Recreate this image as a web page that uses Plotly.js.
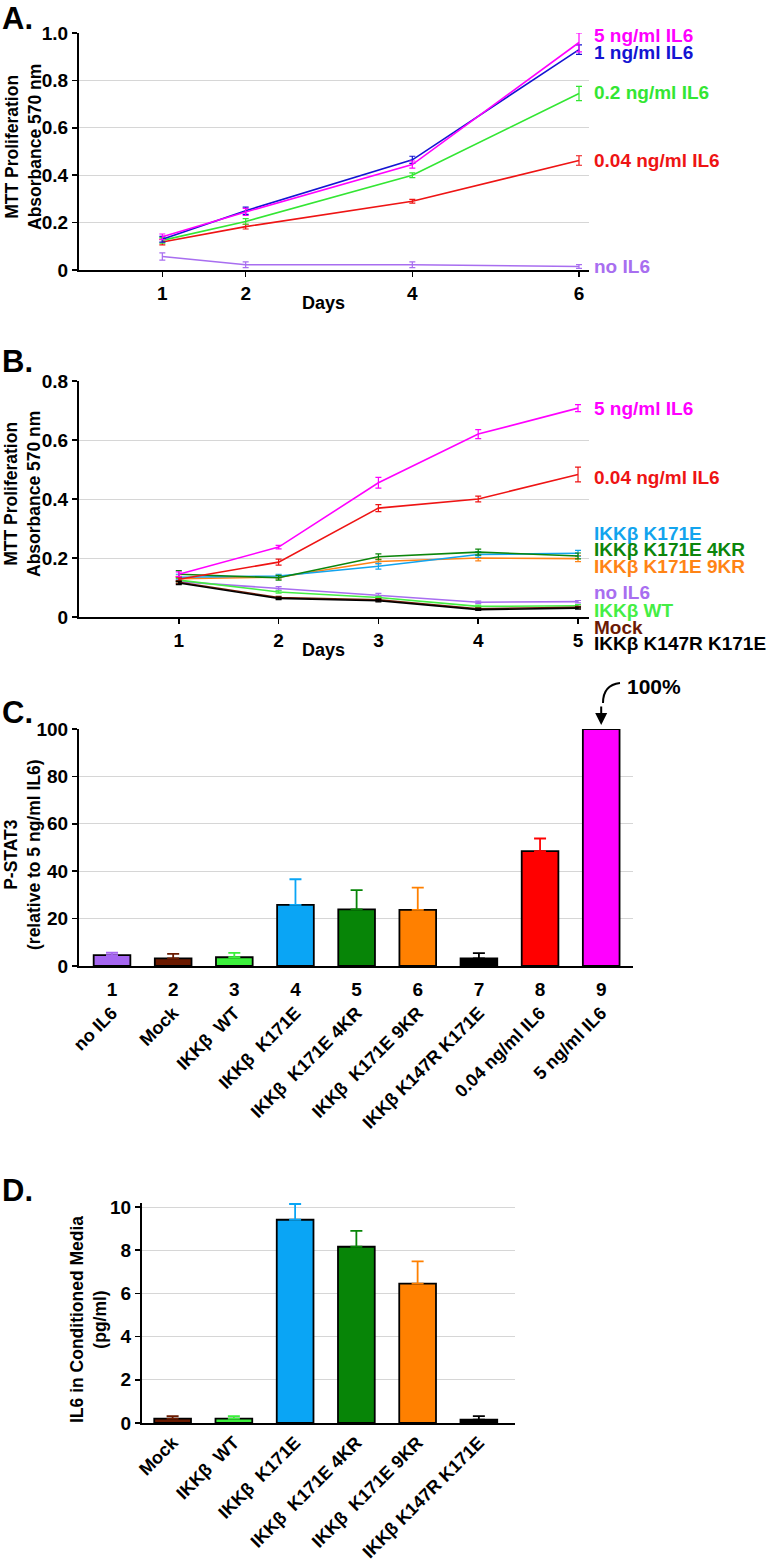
<!DOCTYPE html>
<html><head><meta charset="utf-8">
<script src="https://cdn.plot.ly/plotly-3.0.1.min.js"></script>
<style>html,body{margin:0;padding:0;background:#fff}</style>
</head><body><div id="chart" style="width:773px;height:1564px"></div>
<script>
// ---------- Panel A data ----------
const daysA = [1, 2, 4, 6];
const namesA = ['5 ng/ml IL6', '1 ng/ml IL6', '0.2 ng/ml IL6', '0.04 ng/ml IL6', 'no IL6'];
const a_5ng = [0.140, 0.245, 0.445, 0.960];
const a_5ng_err = [0.012, 0.015, 0.015, 0.040];
const a_1ng = [0.130, 0.250, 0.465, 0.930];
const a_1ng_err = [0.012, 0.015, 0.015, 0.020];
const a_02ng = [0.125, 0.205, 0.400, 0.745];
const a_02ng_err = [0.012, 0.012, 0.010, 0.030];
const a_004ng = [0.118, 0.183, 0.290, 0.462];
const a_004ng_err = [0.012, 0.010, 0.008, 0.020];
const a_noIL6 = [0.057, 0.022, 0.022, 0.015];
const a_noIL6_err = [0.015, 0.012, 0.012, 0.008];
const colorsA = ['#ff00ff', '#1414d2', '#33e633', '#ee1414', '#a86ef0'];

// ---------- Panel B data ----------
const daysB = [1, 2, 3, 4, 5];
const namesB = ['5 ng/ml IL6', '0.04 ng/ml IL6', 'IKKβ K171E', 'IKKβ K171E 4KR', 'IKKβ K171E 9KR', 'no IL6', 'IKKβ WT', 'Mock', 'IKKβ K147R K171E'];
const b_5ng = [0.145, 0.237, 0.455, 0.620, 0.708];
const b_5ng_err = [0.008, 0.006, 0.018, 0.015, 0.012];
const b_004ng = [0.128, 0.186, 0.369, 0.400, 0.483];
const b_004ng_err = [0.008, 0.010, 0.012, 0.010, 0.025];
const b_K171E = [0.135, 0.139, 0.172, 0.212, 0.216];
const b_K171E_err = [0.010, 0.006, 0.010, 0.010, 0.010];
const b_4KR = [0.145, 0.133, 0.204, 0.220, 0.207];
const b_4KR_err = [0.012, 0.008, 0.010, 0.010, 0.010];
const b_9KR = [0.130, 0.135, 0.188, 0.200, 0.198];
const b_9KR_err = [0.008, 0.006, 0.008, 0.010, 0.010];
const b_noIL6 = [0.120, 0.097, 0.075, 0.050, 0.052];
const b_noIL6_err = [0.006, 0.006, 0.005, 0.004, 0.004];
const b_WT = [0.125, 0.085, 0.066, 0.036, 0.038];
const b_WT_err = [0.006, 0.004, 0.004, 0.004, 0.004];
const b_Mock = [0.118, 0.066, 0.058, 0.028, 0.033];
const b_Mock_err = [0.005, 0.004, 0.004, 0.003, 0.003];
const b_K147R = [0.115, 0.063, 0.055, 0.025, 0.030];
const b_K147R_err = [0.005, 0.004, 0.004, 0.003, 0.003];
const colorsB = ['#ff00ff', '#ee1414', '#12a4ee', '#0c860c', '#ff8416', '#a86ef0', '#44ee44', '#6b1a05', '#000000'];

// ---------- Panel C data ----------
const numsC = [1, 2, 3, 4, 5, 6, 7, 8, 9];
const catsC = ['no IL6', 'Mock', 'IKKβ\u00a0 WT', 'IKKβ\u00a0 K171E', 'IKKβ\u00a0 K171E 4KR', 'IKKβ\u00a0 K171E 9KR', 'IKKβ K147R K171E', '0.04 ng/ml IL6', '5 ng/ml IL6'];
const valsC = [4.6, 3.2, 3.7, 25.8, 23.9, 23.7, 3.2, 48.5, 100];
const errC = [1.0, 1.9, 1.8, 10.8, 8.1, 9.4, 2.2, 5.3, 0];
const colorsC = ['#a566f0', '#6b1a00', '#3cf03c', '#0aa5f5', '#078507', '#ff8000', '#000000', '#ff0000', '#ff00ff'];

// ---------- Panel D data ----------
const catsD = ['Mock', 'IKKβ\u00a0 WT', 'IKKβ\u00a0 K171E', 'IKKβ\u00a0 K171E 4KR', 'IKKβ\u00a0 K171E 9KR', 'IKKβ K147R K171E'];
const valsD = [0.20, 0.20, 9.41, 8.16, 6.45, 0.15];
const errD = [0.12, 0.12, 0.73, 0.74, 1.03, 0.17];
const colorsD = ['#6b1a00', '#3cf03c', '#0aa5f5', '#078507', '#ff8000', '#000000'];

// ---------- layout helpers (positions in px) ----------
const W = 773, H = 1564;
const px = x => x / W;
const py = y => 1 - y / H;
const FAM = 'Liberation Sans, Arial, Helvetica, sans-serif';
const tf = (s) => ({family: FAM, size: s, color: '#000', weight: 700});
const labelPxA = [36, 52, 92, 161, 267];
const labelPxB = [408, 477, 533, 549, 567, 593, 610, 627, 643];

const traces = [];
const seriesA = [[a_5ng, a_5ng_err], [a_1ng, a_1ng_err], [a_02ng, a_02ng_err], [a_004ng, a_004ng_err], [a_noIL6, a_noIL6_err]];
[4, 3, 2, 1, 0].forEach(i => {
  traces.push({type: 'scatter', mode: 'lines', x: daysA, y: seriesA[i][0], name: namesA[i],
    xaxis: 'x', yaxis: 'y', line: {color: colorsA[i], width: 1.6},
    error_y: {type: 'data', array: seriesA[i][1], color: colorsA[i], thickness: 1.2, width: 3}});
});
const seriesB = [[b_5ng, b_5ng_err], [b_004ng, b_004ng_err], [b_K171E, b_K171E_err], [b_4KR, b_4KR_err], [b_9KR, b_9KR_err],
  [b_noIL6, b_noIL6_err], [b_WT, b_WT_err], [b_Mock, b_Mock_err], [b_K147R, b_K147R_err]];
[5, 6, 4, 2, 3, 1, 0, 7, 8].forEach(i => {
  traces.push({type: 'scatter', mode: 'lines', x: daysB, y: seriesB[i][0], name: namesB[i],
    xaxis: 'x2', yaxis: 'y2', line: {color: colorsB[i], width: 1.6},
    error_y: {type: 'data', array: seriesB[i][1], color: colorsB[i], thickness: 1.2, width: 3}});
});
numsC.forEach((n, i) => {
  traces.push({type: 'bar', x: [n], y: [valsC[i]], width: 0.6, xaxis: 'x3', yaxis: 'y3',
    marker: {color: colorsC[i], line: {color: '#000', width: 1.8}},
    error_y: {type: 'data', symmetric: false, array: [errC[i]], arrayminus: [0], visible: errC[i] > 0,
      color: colorsC[i], thickness: 1.8, width: 6}});
});
traces.push({type: 'scatter', mode: 'markers', x: [], y: [], xaxis: 'x5', yaxis: 'y3', showlegend: false, hoverinfo: 'skip'});
catsD.forEach((c, i) => {
  traces.push({type: 'bar', x: [c], y: [valsD[i]], width: 0.6, xaxis: 'x4', yaxis: 'y4',
    marker: {color: colorsD[i], line: {color: '#000', width: 1.8}},
    error_y: {type: 'data', symmetric: false, array: [errD[i]], arrayminus: [0],
      color: colorsD[i], thickness: 1.8, width: 6}});
});

const gridC = '#d6d6d6';
function yAxis(dom, range, tv, tt, xa) {
  return {domain: dom, range: range, anchor: xa, tickvals: tv, ticktext: tt, tickfont: tf(19),
    showgrid: true, gridcolor: gridC, gridwidth: 1, zeroline: false, showline: true, linecolor: '#000',
    linewidth: 2, ticks: 'outside', ticklen: 5, tickwidth: 1.5, tickcolor: '#000', fixedrange: true};
}
function xAxis(dom, range, ya, extra) {
  return Object.assign({domain: dom, range: range, anchor: ya, tickfont: tf(19), showgrid: false,
    zeroline: false, showline: true, linecolor: '#000', linewidth: 2, ticks: 'outside', ticklen: 5,
    tickwidth: 1.5, tickcolor: '#000', fixedrange: true}, extra || {});
}

const annotations = [];
const panel = (t, y) => annotations.push({text: t, xref: 'paper', yref: 'paper', x: px(0), y: py(y),
  xanchor: 'left', yanchor: 'middle', showarrow: false, font: tf(31)});
panel('A.', 18); panel('B.', 362); panel('C.', 713); panel('D.', 1190);

const ytitle = (t, xc, yc) => annotations.push({text: t, xref: 'paper', yref: 'paper', x: px(xc), y: py(yc),
  xanchor: 'center', yanchor: 'middle', textangle: -90, showarrow: false, font: tf(17.5)});
ytitle('MTT Proliferation<br>Absorbance 570 nm', 24, 147);
ytitle('MTT Proliferation<br>Absorbance 570 nm', 23, 494);
ytitle('P-STAT3<br>(relative to 5 ng/ml IL6)', 22, 855);
ytitle('IL6 in Conditioned Media<br>(pg/ml)', 88, 1320);

const xtitle = (t, xc, yc) => annotations.push({text: t, xref: 'paper', yref: 'paper', x: px(xc), y: py(yc),
  xanchor: 'center', yanchor: 'middle', showarrow: false, font: tf(18)});
xtitle('Days', 323, 303);
xtitle('Days', 323, 650);

namesA.forEach((n, i) => annotations.push({text: n, xref: 'paper', yref: 'paper', x: px(592), y: py(labelPxA[i]),
  xanchor: 'left', yanchor: 'middle', showarrow: false, font: {family: FAM, size: 19, weight: 700, color: colorsA[i]}}));
namesB.forEach((n, i) => annotations.push({text: n, xref: 'paper', yref: 'paper', x: px(592), y: py(labelPxB[i]),
  xanchor: 'left', yanchor: 'middle', showarrow: false, font: {family: FAM, size: 19, weight: 700, color: colorsB[i]}}));

// 100% marker
annotations.push({text: '', xref: 'x3', yref: 'y3', x: numsC[8], y: valsC[8], showarrow: true, ax: 0, ay: -24,
  arrowhead: 2, arrowsize: 1.2, arrowwidth: 2, arrowcolor: '#000', standoff: 4});
annotations.push({text: '100%', xref: 'paper', yref: 'paper', x: px(625), y: py(686), xanchor: 'left',
  yanchor: 'middle', showarrow: false, font: tf(21)});

const shapes = [{type: 'path', xref: 'paper', yref: 'paper',
  path: `M ${px(603)} ${py(703)} Q ${px(603)} ${py(685)} ${px(620)} ${py(683)}`,
  line: {color: '#000', width: 2}}];

const layout = {
  width: W, height: H, margin: {l: 0, r: 0, t: 0, b: 0}, showlegend: false,
  paper_bgcolor: '#fff', plot_bgcolor: '#fff', barmode: 'overlay',
  font: {family: FAM, color: '#000'},
  xaxis: xAxis([px(79), px(589)], [0, 6.12], 'y', {tickvals: daysA}),
  yaxis: yAxis([py(270), py(33)], [0, 1], [0, 0.2, 0.4, 0.6, 0.8, 1.0], ['0', '0.2', '0.4', '0.6', '0.8', '1.0'], 'x'),
  xaxis2: xAxis([px(79), px(589)], [0, 5.11], 'y2', {tickvals: daysB}),
  yaxis2: yAxis([py(617), py(381)], [0, 0.8], [0, 0.2, 0.4, 0.6, 0.8], ['0', '0.2', '0.4', '0.6', '0.8'], 'x2'),
  xaxis3: xAxis([px(79), px(633)], [0.46, 9.52], 'y3', {tickvals: numsC, ticktext: numsC.map(String), ticks: '', ticklabelstandoff: 5}),
  xaxis5: {overlaying: 'x3', anchor: 'y3', side: 'bottom', range: [0.46, 9.52], tickvals: numsC, ticktext: catsC,
    tickangle: -45, tickfont: tf(18), showgrid: false, zeroline: false, showline: false, ticks: '',
    ticklabelstandoff: 32, fixedrange: true},
  yaxis3: yAxis([py(966), py(729)], [0, 100], [0, 20, 40, 60, 80, 100], ['0', '20', '40', '60', '80', '100'], 'x3'),
  xaxis4: xAxis([px(142), px(515)], [-0.5, 5.59], 'y4', {type: 'category', tickangle: -45, tickfont: tf(18), ticks: ''}),
  yaxis4: yAxis([py(1423), py(1202.7)], [0, 10.2], [0, 2, 4, 6, 8, 10], ['0', '2', '4', '6', '8', '10'], 'x4'),
  annotations: annotations, shapes: shapes
};

Plotly.newPlot('chart', traces, layout, {staticPlot: true});
</script></body></html>
